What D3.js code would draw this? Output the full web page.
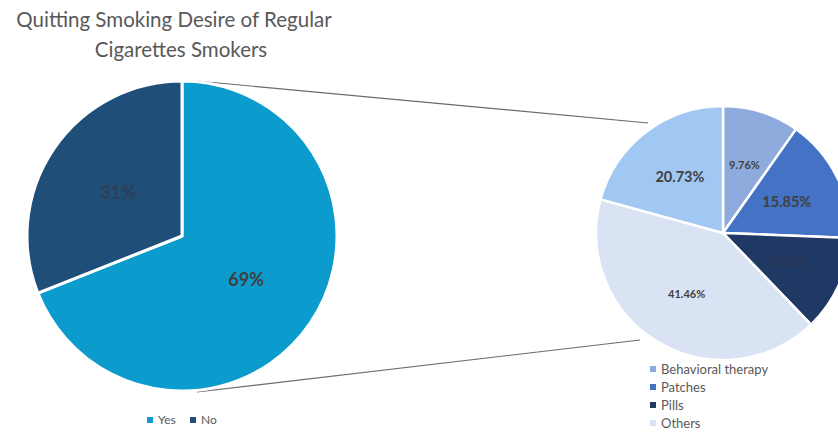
<!DOCTYPE html>
<html><head><meta charset="utf-8">
<script src="https://cdn.jsdelivr.net/npm/d3@7"></script>
<style>body{margin:0;background:#fff}svg{display:block}</style>
</head><body>
<svg id="c" width="838" height="432"></svg>
<script>
const titleLines = ["Quitting Smoking Desire of Regular", "Cigarettes Smokers"];
const mainCategories = ["Yes", "No"];
const mainValues = [69, 31];
const mainColors = ["#0b9bcd", "#1f4e79"];
const subCategories = ["Behavioral therapy", "Patches", "Pills", "Others", ""];
const subValues = [9.76, 15.85, 12.20, 41.46, 20.73];
const subColors = ["#8faadc", "#4472c4", "#203864", "#dae3f3", "#a1c8f2"];
const subLabels = ["9.76%", "15.85%", "12.20%", "41.46%", "20.73%"];
const subLabelSizes = [11, 14.5, 11, 11, 14.5];
const legendSub = ["Behavioral therapy", "Patches", "Pills", "Others"];

const svg = d3.select("#c");
const font = "Lato, 'Open Sans', sans-serif";

// title
svg.append("text").attr("x", 174).attr("y", 27).attr("text-anchor", "middle")
  .attr("font-family", font).attr("font-size", 20.5).attr("fill", "#595959")
  .text(titleLines[0]);
svg.append("text").attr("x", 181).attr("y", 57).attr("text-anchor", "middle")
  .attr("font-family", font).attr("font-size", 20.5).attr("fill", "#595959")
  .text(titleLines[1]);

// connector lines
const conn = [[197, 81, 648, 123], [197, 392, 640, 340]];
svg.selectAll("line.conn").data(conn).enter().append("line")
  .attr("x1", d => d[0]).attr("y1", d => d[1]).attr("x2", d => d[2]).attr("y2", d => d[3])
  .attr("stroke", "#6b6b6b").attr("stroke-width", 1.2);

// main pie
const pie = d3.pie().sort(null).value(d => d.v);
const R1 = 155, cx1 = 182, cy1 = 236;
const arc1 = d3.arc().innerRadius(0).outerRadius(R1);
const lab1 = d3.arc().innerRadius(R1 * 0.5).outerRadius(R1 * 0.5);
const g1 = svg.append("g").attr("transform", `translate(${cx1},${cy1})`);
const mainData = pie(mainValues.map((v, i) => ({v, c: mainCategories[i]})));
g1.selectAll("path").data(mainData).enter().append("path")
  .attr("d", arc1).attr("fill", (d, i) => mainColors[i])
  .attr("stroke", "#fff").attr("stroke-width", 3).attr("stroke-linejoin", "round");
g1.selectAll("text").data(mainData).enter().append("text")
  .attr("transform", d => `translate(${lab1.centroid(d)})`)
  .attr("text-anchor", "middle").attr("dy", "0.35em")
  .attr("font-family", font).attr("font-weight", "bold").attr("font-size", 18)
  .attr("fill", (d, i) => i === 0 ? "#404040" : "#2e3f55")
  .text(d => d.data.v + "%");

// main legend
const lg1 = svg.append("g");
const lgX = [150, 193];
mainCategories.forEach((c, i) => {
  lg1.append("rect").attr("x", lgX[i] - 3).attr("y", 417).attr("width", 6).attr("height", 6).attr("fill", mainColors[i]);
  lg1.append("text").attr("x", lgX[i] + 8).attr("y", 424).attr("font-family", font).attr("font-size", 12)
    .attr("fill", "#595959").text(c);
});

// sub pie
const R2 = 127, cx2 = 723, cy2 = 233;
const arc2 = d3.arc().innerRadius(0).outerRadius(R2);
const lab2 = d3.arc().innerRadius(R2 * 0.56).outerRadius(R2 * 0.56);
const g2 = svg.append("g").attr("transform", `translate(${cx2},${cy2})`);
const subData = pie(subValues.map((v, i) => ({v, c: subCategories[i], i})));
g2.selectAll("path").data(subData).enter().append("path")
  .attr("d", arc2).attr("fill", (d, i) => subColors[i])
  .attr("stroke", "#fff").attr("stroke-width", 2.5).attr("stroke-linejoin", "round");
g2.selectAll("text").data(subData).enter().append("text")
  .attr("transform", d => `translate(${lab2.centroid(d)})`)
  .attr("text-anchor", "middle").attr("dy", "0.35em")
  .attr("font-family", font).attr("font-weight", "bold")
  .attr("font-size", (d, i) => subLabelSizes[i])
  .attr("fill", (d, i) => i === 2 ? "#2a3650" : "#404040")
  .text((d, i) => subLabels[i]);

// sub legend
const lg2 = svg.append("g");
legendSub.forEach((c, i) => {
  const y = 370 + i * 18;
  lg2.append("rect").attr("x", 650).attr("y", y - 4).attr("width", 6).attr("height", 6).attr("fill", subColors[i]);
  lg2.append("text").attr("x", 661).attr("y", y + 4).attr("font-family", font).attr("font-size", 13)
    .attr("fill", "#595959").text(c);
});
</script>
</body></html>
